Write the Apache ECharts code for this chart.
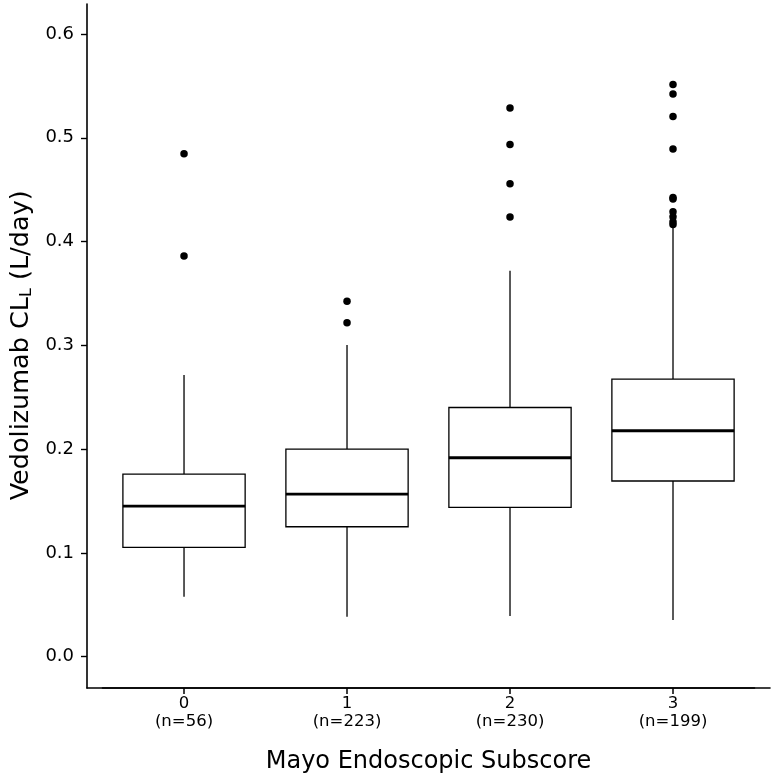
<!DOCTYPE html>
<html>
<head>
<meta charset="utf-8">
<script src="https://cdn.jsdelivr.net/npm/echarts@6/dist/echarts.min.js"></script>
<style>html,body{margin:0;padding:0;background:#fff}#c{width:774px;height:779px}</style>
</head>
<body>
<div id="c"></div>
<script>
// categories and counts
var categories = ['0', '1', '2', '3'];
var counts = [56, 223, 230, 199];
// box statistics: [lower whisker, Q1, median, Q3, upper whisker]
var lowerWhisker = [0.0578, 0.0385, 0.0392, 0.0354];
var q1Values = [0.1054, 0.1252, 0.1439, 0.1693];
var medianValues = [0.1450, 0.1567, 0.1917, 0.2177];
var q3Values = [0.1760, 0.2001, 0.2401, 0.2675];
var upperWhisker = [0.2714, 0.3003, 0.3718, 0.4156];
// outliers per category
var outliers0 = [0.4846, 0.3860];
var outliers1 = [0.3426, 0.3218];
var outliers2 = [0.5287, 0.4935, 0.4557, 0.4236];
var outliers3 = [0.5514, 0.5421, 0.5206, 0.4891, 0.4425, 0.4410, 0.4287, 0.4239, 0.4191, 0.4165];
// y ticks
var yMin = 0, yMax = 0.6, yStep = 0.1;

var FONT = 'DejaVu Sans';
var boxData = categories.map(function (c, i) {
  return [i, lowerWhisker[i], q1Values[i], medianValues[i], q3Values[i], upperWhisker[i]];
});
var outlierData = [];
[outliers0, outliers1, outliers2, outliers3].forEach(function (arr, i) {
  arr.forEach(function (v) { outlierData.push([i, v]); });
});

var chart = echarts.init(document.getElementById('c'), null, {renderer: 'canvas'});
var option = {
  animation: false,
  backgroundColor: '#fff',
  grid: [
    {left: 87, right: 4, top: 4, bottom: 91},
    {left: 102.5, right: 19.5, top: 34, bottom: 122.3},
    {left: 102.5, right: 19.5, top: 4, bottom: 91}
  ],
  xAxis: [
    {gridIndex: 0, type: 'value', min: 0, max: 1,
     axisLine: {show: true, lineStyle: {color: '#000', width: 1.6}},
     axisTick: {show: false}, axisLabel: {show: false}, splitLine: {show: false}},
    {gridIndex: 1, type: 'category', data: categories, boundaryGap: true, show: false},
    {gridIndex: 2, type: 'category', data: categories, boundaryGap: true,
     axisLine: {show: true, lineStyle: {color: '#000', width: 1.6}},
     axisTick: {show: true, alignWithLabel: true, length: 6, lineStyle: {color: '#000', width: 1.5}},
     axisLabel: {color: '#000', fontFamily: FONT, fontSize: 16.5, lineHeight: 18, margin: 7,
       formatter: function (v, i) { return v + '\n(n=' + counts[i] + ')'; }},
     splitLine: {show: false},
     name: 'Mayo Endoscopic Subscore', nameLocation: 'middle', nameGap: 62,
     nameTextStyle: {color: '#000', fontFamily: FONT, fontSize: 24}}
  ],
  yAxis: [
    {gridIndex: 0, type: 'value', min: 0, max: 1,
     axisLine: {show: true, lineStyle: {color: '#000', width: 1.6}},
     axisTick: {show: false}, axisLabel: {show: false}, splitLine: {show: false}},
    {gridIndex: 1, type: 'value', min: yMin, max: yMax, interval: yStep, offset: 15.5,
     axisLine: {show: false},
     axisTick: {show: true, length: 6, lineStyle: {color: '#000', width: 1.4}},
     axisLabel: {color: '#000', fontFamily: FONT, fontSize: 18, margin: 13,
       formatter: function (v) { return v.toFixed(1); }},
     splitLine: {show: false},
     name: 'Vedolizumab CL{sub|L} (L/day)', nameLocation: 'middle', nameGap: 52,
     nameTextStyle: {color: '#000', fontFamily: FONT, fontSize: 25.5,
       rich: {sub: {fontFamily: FONT, fontSize: 16, color: '#000', padding: [11, 0, 0, 0], verticalAlign: 'bottom'}}}},
    {gridIndex: 2, type: 'value', min: 0, max: 1, show: false}
  ],
  series: [
    {
      type: 'custom', xAxisIndex: 1, yAxisIndex: 1, data: boxData,
      renderItem: function (params, api) {
        var idx = api.value(0);
        var pLo = api.coord([idx, api.value(1)]);
        var pQ1 = api.coord([idx, api.value(2)]);
        var pMed = api.coord([idx, api.value(3)]);
        var pQ3 = api.coord([idx, api.value(4)]);
        var pHi = api.coord([idx, api.value(5)]);
        var w = api.size([1, 0])[0] * 0.75;
        var x0 = pMed[0] - w / 2, x1 = pMed[0] + w / 2;
        var ls = {stroke: '#000', lineWidth: 1.3};
        return {
          type: 'group',
          children: [
            {type: 'line', shape: {x1: pLo[0], y1: pLo[1], x2: pQ1[0], y2: pQ1[1]}, style: ls},
            {type: 'line', shape: {x1: pQ3[0], y1: pQ3[1], x2: pHi[0], y2: pHi[1]}, style: ls},
            {type: 'rect', shape: {x: x0, y: pQ3[1], width: w, height: pQ1[1] - pQ3[1]},
             style: {fill: '#fff', stroke: '#000', lineWidth: 1.3}},
            {type: 'line', shape: {x1: x0, y1: pMed[1], x2: x1, y2: pMed[1]},
             style: {stroke: '#000', lineWidth: 2.8}}
          ]
        };
      }
    },
    {
      type: 'scatter', xAxisIndex: 1, yAxisIndex: 1, data: outlierData,
      symbol: 'circle', symbolSize: 7.5, itemStyle: {color: '#000', opacity: 1}
    }
  ]
};
chart.setOption(option);
</script>
</body>
</html>
